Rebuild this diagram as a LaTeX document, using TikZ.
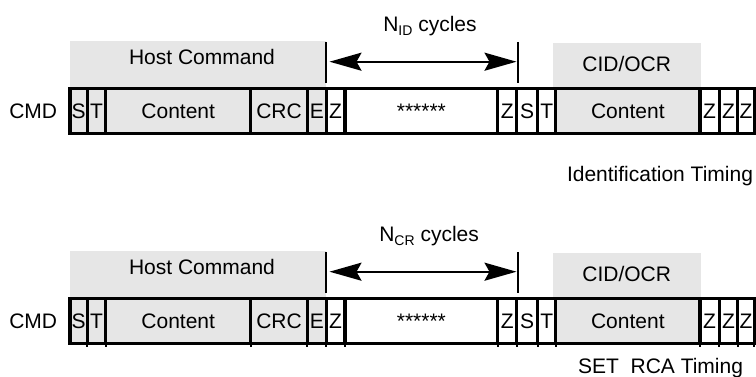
\documentclass[tikz,border=0pt]{standalone}
\usepackage{fontspec}
\setmainfont{Liberation Sans}
\usetikzlibrary{arrows.meta}
\definecolor{cellgray}{HTML}{E6E6E6}
\tikzset{bigtip/.tip={Stealth[length=32pt,width=18pt,inset=5pt]}}
\begin{document}
\begin{tikzpicture}[x=1pt,y=-1pt,
  txt/.style={font=\fontsize{21}{25}\selectfont, inner sep=0pt, outer sep=0pt},
  cell/.style={txt, draw, line width=3.4pt, minimum height=45pt, text height=15pt, text depth=0pt},
  hdr/.style={fill=cellgray, inner sep=0pt, outer sep=0pt},
  marker/.style={line width=2.2pt},
  span/.style={line width=2.2pt, bigtip-bigtip},
  tick/.style={line width=2.2pt}]
\useasboundingbox (0,0) rectangle (756,377);
\foreach \r/\o in {1/0,2/210}{
  \node[hdr, minimum width=256pt, minimum height=47pt] (hc\r) at (198,{64.5+\o}) {};
  \node[hdr, minimum width=148.3pt, minimum height=44.7pt] (co\r) at (626.85,{65.65+\o}) {};
  \node[txt, anchor=base] (hct\r) at (202,{65+\o}) {Host Command};
  \node[txt, anchor=base] (cot\r) at (626.7,{72+\o}) {CID/OCR};
  \node[txt, anchor=base west] (cmd\r) at (9.3,{118.3+\o}) {CMD};
  \foreach \a/\b/\t/\f/\n in {
    70/87.3/S/cellgray/s1,
    87.3/105.7/T/cellgray/t1,
    105.7/250.7/Content/cellgray/c1,
    250.7/307.3/CRC/cellgray/crc,
    307.3/326.3/E/cellgray/e,
    326.3/345/Z/white/z1,
    345/497.7/******/white/st,
    497.7/516.7/Z/white/z2,
    516.7/537.7/S/white/s2,
    537.7/555.7/T/white/t2,
    555.7/700/Content/cellgray/c2,
    700/719.3/Z/white/z3,
    719.3/737.7/Z/white/z4,
    737.7/754.3/Z/white/z5}{
    \pgfmathsetmacro\w{\b-\a}
    \pgfmathsetmacro\c{(\a+\b)/2}
    \node[cell, fill=\f, minimum width=\w pt] (r\r-\n) at (\c,{110.8+\o}) {\t};
  }
  \coordinate (mlt\r) at (325.7,{42+\o});
  \coordinate (mlb\r) at (325.7,{83+\o});
  \coordinate (mrt\r) at (517.7,{42+\o});
  \coordinate (mrb\r) at (517.7,{83+\o});
  \draw[marker] (mlt\r) -- (mlb\r);
  \draw[marker] (mrt\r) -- (mrb\r);
  \coordinate (al\r) at (329.5,{61.7+\o});
  \coordinate (ar\r) at (516.5,{61.7+\o});
  \draw[span] (al\r) -- (ar\r);
}
\foreach \n in {s1,t1,c1,crc,e,z1,st,z2,s2,t2,c2,z3,z4,z5}{
  \draw[tick] (r2-\n.south east) -- ++(0,3.2);
}
\node[txt, anchor=base west] (nid) at (383.3,31.7) {N\raisebox{-4pt}{\fontsize{14}{14}\selectfont ID} cycles};
\node[txt, anchor=base west] (ncr) at (379.3,241.7) {N\raisebox{-4pt}{\fontsize{14}{14}\selectfont CR} cycles};
\node[txt, anchor=base east] (idt) at (753,182) {Identification Timing};
\node[txt, anchor=base east] (rca) at (743,373) {SET\ \ RCA Timing};
\end{tikzpicture}
\end{document}
